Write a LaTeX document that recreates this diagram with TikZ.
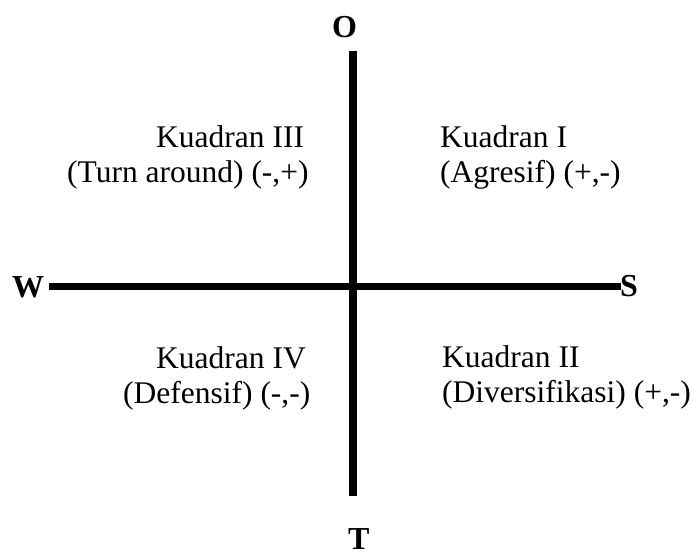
\documentclass[tikz,border=0pt]{standalone}
\usepackage{fontspec}
\setmainfont{Liberation Serif}
\begin{document}
\begin{tikzpicture}[x=1pt,y=-1pt,
  lbl/.style={font=\fontsize{31.5}{35}\selectfont, inner sep=0pt, anchor=base west},
  axlbl/.style={font=\fontsize{32}{35}\selectfont\bfseries, inner sep=0pt, anchor=base west},
  vaxis/.style={line width=8pt},
  haxis/.style={line width=7pt}]
\useasboundingbox (0,0) rectangle (697,554);
\coordinate (Otop) at (352.5,51);
\coordinate (Tbot) at (352.5,496);
\coordinate (Wl) at (49,286.5);
\coordinate (Sr) at (621,286.5);
\draw[vaxis] (Otop) -- (Tbot);
\draw[haxis] (Wl) -- (Sr);
\node[axlbl] (O) at (332,37) {O};
\node[axlbl] (W) at (12,297) {W};
\node[axlbl] (S) at (620,296) {S};
\node[axlbl] (T) at (348,549) {T};
\node[lbl] (q3a) at (156,147) {Kuadran III};
\node[lbl] (q3b) at (67,182) {(Turn around) (-,+)};
\node[lbl] (q1a) at (440,147) {Kuadran I};
\node[lbl] (q1b) at (440,182) {(Agresif) (+,-)};
\node[lbl] (q4a) at (156,368) {Kuadran IV};
\node[lbl] (q4b) at (123,403) {(Defensif) (-,-)};
\node[lbl] (q2a) at (442,367) {Kuadran II};
\node[lbl] (q2b) at (442,402) {(Diversifikasi) (+,-)};
\end{tikzpicture}
\end{document}
